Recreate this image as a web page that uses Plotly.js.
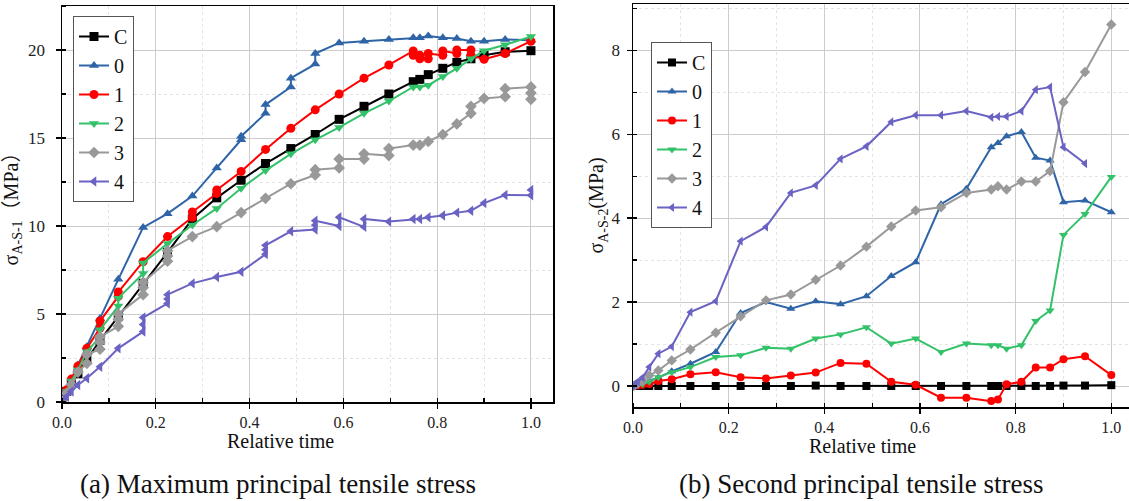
<!DOCTYPE html>
<html>
<head>
<meta charset="utf-8">
<script src="https://cdn.plot.ly/plotly-3.0.1.min.js"></script>
<style>html,body{margin:0;padding:0;background:#fff;}#chart{width:1129px;height:501px;}</style>
</head>
<body>
<div id="chart"></div>
<script>
// ---------- DATA ----------
const seriesNames = ["C", "0", "1", "2", "3", "4"];

// (a) Maximum principal tensile stress
const xC_a = [0,.01,.02,.034,.053,.081,.12,.173,.225,.278,.33,.382,.434,.488,.54,.591,.644,.697,.749,.763,.781,.812,.842,.872,.9,.945,1.0];
const yC_a = [0,.6,1.1,1.6,2.4,3.5,4.85,6.74,8.5,10.4,11.6,12.6,13.55,14.4,15.2,16.06,16.8,17.5,18.2,18.33,18.6,18.96,19.3,19.5,19.7,19.9,19.96];

const x0_a = [0,.01,.02,.034,.053,.081,.12,.173,.225,.278,.33,.382,.382,.434,.434,.488,.488,.54,.54,.591,.644,.697,.749,.763,.781,.812,.842,.872,.9,.945,1.0];
const y0_a = [0,.7,1.3,2.1,3.14,4.75,6.97,9.92,10.7,11.7,13.3,14.9,15.1,16.4,16.9,17.9,18.4,19.2,19.8,20.4,20.5,20.6,20.7,20.7,20.8,20.7,20.65,20.5,20.5,20.6,20.55];

const x1_a = [0,.01,.02,.034,.053,.081,.081,.12,.12,.173,.225,.278,.278,.33,.33,.382,.434,.488,.54,.591,.644,.697,.749,.749,.763,.763,.781,.781,.812,.812,.842,.842,.872,.872,.9,.945,1.0];
const y1_a = [0,.7,1.3,2.04,3.05,4.2,4.6,6.0,6.25,7.97,9.4,10.5,10.8,11.85,12.05,13.1,14.35,15.55,16.6,17.5,18.4,19.15,19.95,19.7,19.7,19.5,19.5,19.8,19.7,19.95,19.8,20.0,20.0,19.7,19.47,19.8,20.5];

const x2_a = [0,.01,.02,.034,.053,.081,.081,.12,.12,.173,.173,.225,.278,.33,.382,.434,.488,.54,.591,.644,.697,.749,.763,.781,.812,.842,.872,.9,.945,1.0];
const y2_a = [0,.6,1.2,1.82,2.86,3.7,4.1,5.45,5.9,7.3,7.9,9.0,10.06,11.0,12.14,13.15,14.1,14.9,15.6,16.4,17.1,17.9,17.9,18.0,18.5,18.96,19.5,19.96,20.3,20.76];

const x3_a = [0,.01,.02,.034,.053,.053,.081,.081,.081,.12,.12,.12,.173,.173,.173,.225,.225,.225,.278,.33,.382,.434,.488,.54,.54,.591,.591,.644,.644,.697,.697,.749,.763,.781,.812,.842,.872,.872,.9,.945,.945,1.0,1.0,1.0];
const y3_a = [0,.5,1.0,1.7,2.2,2.7,3.0,3.4,3.7,4.3,4.7,5.0,6.1,6.5,6.8,8.0,8.3,8.6,9.4,9.96,10.76,11.57,12.4,12.9,13.2,13.3,13.8,13.8,14.1,14.0,14.4,14.6,14.6,14.8,15.2,15.8,16.4,16.8,17.25,17.35,17.8,17.9,17.55,17.2];

const x4_a = [0,.01,.02,.034,.053,.081,.12,.173,.173,.173,.225,.225,.225,.278,.33,.382,.434,.434,.434,.488,.54,.54,.54,.591,.591,.644,.644,.697,.749,.763,.781,.812,.842,.872,.9,.945,1.0,1.0];
const y4_a = [0,.3,.6,.97,1.35,2.0,3.05,4.0,4.4,4.8,5.6,5.85,6.1,6.74,7.1,7.4,8.4,8.65,8.9,9.7,9.8,10.05,10.3,10.0,10.5,9.95,10.4,10.25,10.4,10.4,10.5,10.6,10.76,10.87,11.3,11.76,11.75,12.05];

// (b) Second principal tensile stress
const x_b  = [0,.005,.01,.02,.034,.053,.081,.12,.173,.225,.278,.33,.382,.434,.488,.54,.591,.644,.697,.749,.763,.781,.812,.842,.872,.9,.945,1.0];
const yC_b = [0,0,0,0,0,0,0,0,0,0,0,0,0.01,0,0,0,0,0,0,0,0,0,0,0,0,0.01,0.01,0.02];
const y0_b = [0,.02,.04,.07,.12,.2,.35,.53,.81,1.74,2.0,1.84,2.02,1.95,2.14,2.62,2.95,4.33,4.7,5.69,5.79,5.95,6.05,5.44,5.37,4.38,4.42,4.14];
const y1_b = [0,.01,.02,.03,.05,.12,.16,.28,.33,.21,.18,.25,.32,.55,.53,.1,.03,-.28,-.28,-.36,-.32,.04,.1,.44,.44,.64,.71,.26];
const y2_b = [0,.01,.03,.05,.1,.21,.33,.45,.69,.73,.91,.89,1.13,1.23,1.4,1.01,1.13,.81,1.01,.97,.97,.89,.97,1.55,1.8,3.6,4.1,4.98];
const y3_b = [0,.03,.06,.12,.25,.37,.61,.87,1.27,1.66,2.04,2.18,2.53,2.87,3.32,3.8,4.18,4.26,4.6,4.68,4.76,4.68,4.87,4.87,5.12,6.76,7.48,8.61];
const x4_b = [0,.005,.01,.02,.034,.053,.081,.12,.173,.225,.278,.33,.382,.434,.488,.54,.591,.644,.697,.749,.763,.781,.812,.842,.872,.9,.945];
const y4_b = [0,.05,.1,.2,.45,.77,.94,1.76,2.02,3.45,3.79,4.6,4.78,5.41,5.71,6.29,6.45,6.45,6.55,6.4,6.42,6.42,6.55,7.06,7.12,5.69,5.3];

const xTitle = "Relative time";
const yTitleA = "σ<sub>A-S-1</sub>（MPa）";
const yTitleB = "σ<sub>A-S-2</sub>(MPa)";
const captionA = "(a) Maximum principal tensile stress";
const captionB = "(b) Second principal tensile stress";

// ---------- STYLE ----------
const colors  = ["#000000", "#2F65A7", "#FF0000", "#33C26A", "#999999", "#6A63C3"];
const symbols = ["square", "triangle-up", "circle", "triangle-down", "diamond", "triangle-left"];
const FONT = "Liberation Serif, Times New Roman, Noto Sans CJK SC, serif";

const dataA = [[xC_a,yC_a],[x0_a,y0_a],[x1_a,y1_a],[x2_a,y2_a],[x3_a,y3_a],[x4_a,y4_a]];
const dataB = [[x_b,yC_b],[x_b,y0_b],[x_b,y1_b],[x_b,y2_b],[x_b,y3_b],[x4_b,y4_b]];

const traces = [];
dataA.forEach((d, i) => traces.push({
  type: "scatter", mode: "lines+markers", name: seriesNames[i],
  x: d[0], y: d[1], xaxis: "x", yaxis: "y", legend: "legend",
  line: {color: colors[i], width: 2},
  marker: {color: colors[i], symbol: symbols[i], size: 9}
}));
dataB.forEach((d, i) => traces.push({
  type: "scatter", mode: "lines+markers", name: seriesNames[i],
  x: d[0], y: d[1], xaxis: "x2", yaxis: "y2", legend: "legend2",
  line: {color: colors[i], width: 2},
  marker: {color: colors[i], symbol: symbols[i], size: 8}
}));

const W = 1129, H = 501;
const mL = 62, mT = 4, mB = 94, mR = 0;
const plotW = W - mL - mR, plotH = H - mT - mB;
const px = v => (v - mL) / plotW;
const py = v => (H - mB - v) / plotH;

function xAxis(domain, range, anchor) {
  return {
    domain: domain, range: range, anchor: anchor,
    dtick: 0.2, tick0: 0, tickformat: ".1f",
    ticks: "outside", ticklen: 5, tickwidth: 1.2, tickcolor: "#000",
    showline: true, linecolor: "#000", linewidth: 1.5, mirror: true,
    showgrid: true, gridcolor: "#cccccc", gridwidth: 1, zeroline: false,
    minor: {dtick: 0.1, ticks: "inside", ticklen: 4, tickcolor: "#000",
            showgrid: true, gridcolor: "#e4e4e4", griddash: "dot", gridwidth: 1},
    tickfont: {family: FONT, size: 16, color: "#222"}
  };
}
function yAxis(domain, range, dtick, minorDtick, anchor, title, standoff, mirror, labelStandoff) {
  return {
    domain: domain, range: range, anchor: anchor,
    dtick: dtick, tick0: 0,
    ticks: "outside", ticklen: 5, tickwidth: 1.2, tickcolor: "#000",
    ticklabelstandoff: labelStandoff,
    showline: true, linecolor: "#000", linewidth: 1.5, mirror: mirror,
    showgrid: true, gridcolor: "#cccccc", gridwidth: 1, zeroline: false,
    minor: {dtick: minorDtick, ticks: "inside", ticklen: 4, tickcolor: "#000",
            showgrid: true, gridcolor: "#e4e4e4", griddash: "dot", gridwidth: 1},
    tickfont: {family: FONT, size: 17, color: "#222"},
    title: {text: title, font: {family: FONT, size: 20, color: "#111"}, standoff: standoff}
  };
}

const layout = {
  width: W, height: H,
  margin: {l: mL, r: mR, t: mT, b: mB},
  paper_bgcolor: "#fff", plot_bgcolor: "#fff",
  font: {family: FONT, color: "#111"},
  xaxis: xAxis([0, px(553)], [0, 1.047], "y"),
  yaxis: yAxis([py(402), py(6)], [0, 22.5], 5, 2.5, "x", yTitleA, 4, true, 7),
  xaxis2: xAxis([px(633), 1], [0, 1.037], "y2"),
  yaxis2: yAxis([py(407), py(4)], [-0.5, 9.1], 2, 1, "x2", yTitleB, 2, false, 3),
  legend: {
    x: px(73), y: py(16), xanchor: "left", yanchor: "top",
    bgcolor: "#fff", bordercolor: "#555", borderwidth: 1,
    font: {family: FONT, size: 20, color: "#111"}, tracegroupgap: 0,
    itemwidth: 30
  },
  legend2: {
    x: px(651), y: py(42), xanchor: "left", yanchor: "top",
    bgcolor: "#fff", bordercolor: "#555", borderwidth: 1,
    font: {family: FONT, size: 20, color: "#111"}, tracegroupgap: 0,
    itemwidth: 30
  },
  annotations: [
    {text: xTitle, xref: "paper", yref: "paper", x: (280 - mL) / plotW, y: py(441),
     xanchor: "center", yanchor: "middle", showarrow: false, font: {family: FONT, size: 20, color: "#111"}},
    {text: xTitle, xref: "paper", yref: "paper", x: (862 - mL) / plotW, y: py(446),
     xanchor: "center", yanchor: "middle", showarrow: false, font: {family: FONT, size: 20, color: "#111"}},
    {text: captionA, xref: "paper", yref: "paper", x: (278 - mL) / plotW, y: py(484),
     xanchor: "center", yanchor: "middle", showarrow: false, font: {family: FONT, size: 27, color: "#111"}},
    {text: captionB, xref: "paper", yref: "paper", x: (861 - mL) / plotW, y: py(484),
     xanchor: "center", yanchor: "middle", showarrow: false, font: {family: FONT, size: 27, color: "#111"}}
  ]
};

Plotly.newPlot("chart", traces, layout, {displayModeBar: false, staticPlot: true});
</script>
</body>
</html>
